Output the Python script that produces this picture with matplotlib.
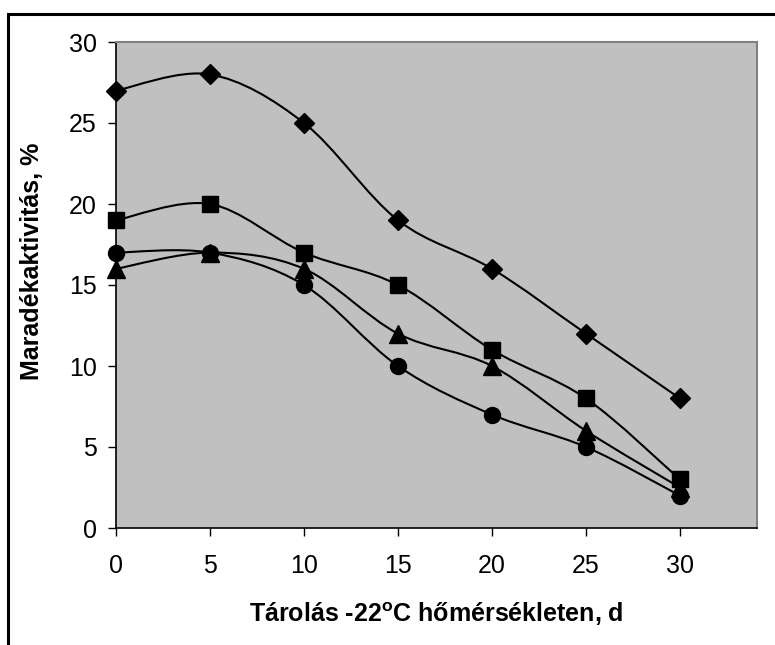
import matplotlib
matplotlib.use("Agg")
import matplotlib.pyplot as plt
from matplotlib.path import Path
from matplotlib.patches import PathPatch, Rectangle

plt.rcParams["font.family"] = ["Liberation Sans", "DejaVu Sans"]
plt.rcParams["mathtext.fontset"] = "custom"
plt.rcParams["mathtext.rm"] = "Liberation Sans"
plt.rcParams["mathtext.bf"] = "Liberation Sans:bold"

days = [0, 5, 10, 15, 20, 25, 30]
s_diamond = [27, 28, 25, 19, 16, 12, 8]
s_square = [19, 20, 17, 15, 11, 8, 3]
s_triangle = [16, 17, 16, 12, 10, 6, 2.5]
s_circle = [17, 17, 15, 10, 7, 5, 2]


def smooth_path(x, y):
    # Excel-like smoothed line: Bezier segments with Catmull-Rom control points
    pts = list(zip(x, y))
    verts = [pts[0]]
    codes = [Path.MOVETO]
    n = len(pts)
    for i in range(n - 1):
        p0 = pts[i - 1] if i > 0 else pts[i]
        p1 = pts[i]
        p2 = pts[i + 1]
        p3 = pts[i + 2] if i + 2 < n else pts[i + 1]
        c1 = (p1[0] + (p2[0] - p0[0]) / 6, p1[1] + (p2[1] - p0[1]) / 6)
        c2 = (p2[0] - (p3[0] - p1[0]) / 6, p2[1] - (p3[1] - p1[1]) / 6)
        verts += [c1, c2, p2]
        codes += [Path.CURVE4] * 3
    return Path(verts, codes)


fig = plt.figure(figsize=(7.75, 6.45), dpi=100)
W, H = 775, 645
ax = fig.add_axes([116 / W, 1 - 528 / H, (757 - 116) / W, (528 - 42) / H])
ax.set_facecolor("#c0c0c0")

series = [
    (s_diamond, "D", 10.5),
    (s_square, "s", 11.5),
    (s_triangle, "^", 12.5),
    (s_circle, "o", 11.5),
]
for vals, mk, ms in series:
    ax.add_patch(PathPatch(smooth_path(days, vals), fill=False, edgecolor="black", lw=1.5, zorder=2))
    ax.plot(days, vals, linestyle="none", marker=mk, markersize=ms, color="black",
            zorder=3, clip_on=False)

ax.set_xlim(0, 34.1)
ax.set_ylim(0, 30)
ax.set_xticks(days)
ax.set_yticks([0, 5, 10, 15, 20, 25, 30])
ax.tick_params(direction="out", length=6, width=1, labelsize=18)
ax.tick_params(axis="y", pad=8)
ax.tick_params(axis="x", pad=13)
for side in ["left", "bottom"]:
    ax.spines[side].set_color("black")
    ax.spines[side].set_linewidth(1.2)
for side in ["top", "right"]:
    ax.spines[side].set_color("#808080")
    ax.spines[side].set_linewidth(1.5)

ax.set_ylabel("Maradékaktivitás, %", fontsize=18, fontweight="bold")
ax.yaxis.set_label_coords(32 / W, 1 - 261 / H, transform=fig.transFigure)
ax.set_xlabel(r"Tárolás -22$^{\mathbf{o}}$C hőmérsékleten, d", fontsize=18,
              fontweight="bold")
ax.xaxis.set_label_coords(436 / W, 1 - 614 / H, transform=fig.transFigure)
ax.xaxis.label.set_va("center")
ax.yaxis.label.set_va("center")

fig.patches.append(Rectangle((8 / W, -0.1), 1.2, 1 - 14 / H + 0.1, transform=fig.transFigure,
                             fill=False, edgecolor="black", linewidth=2.2))

fig.savefig("out.png", dpi=100)
